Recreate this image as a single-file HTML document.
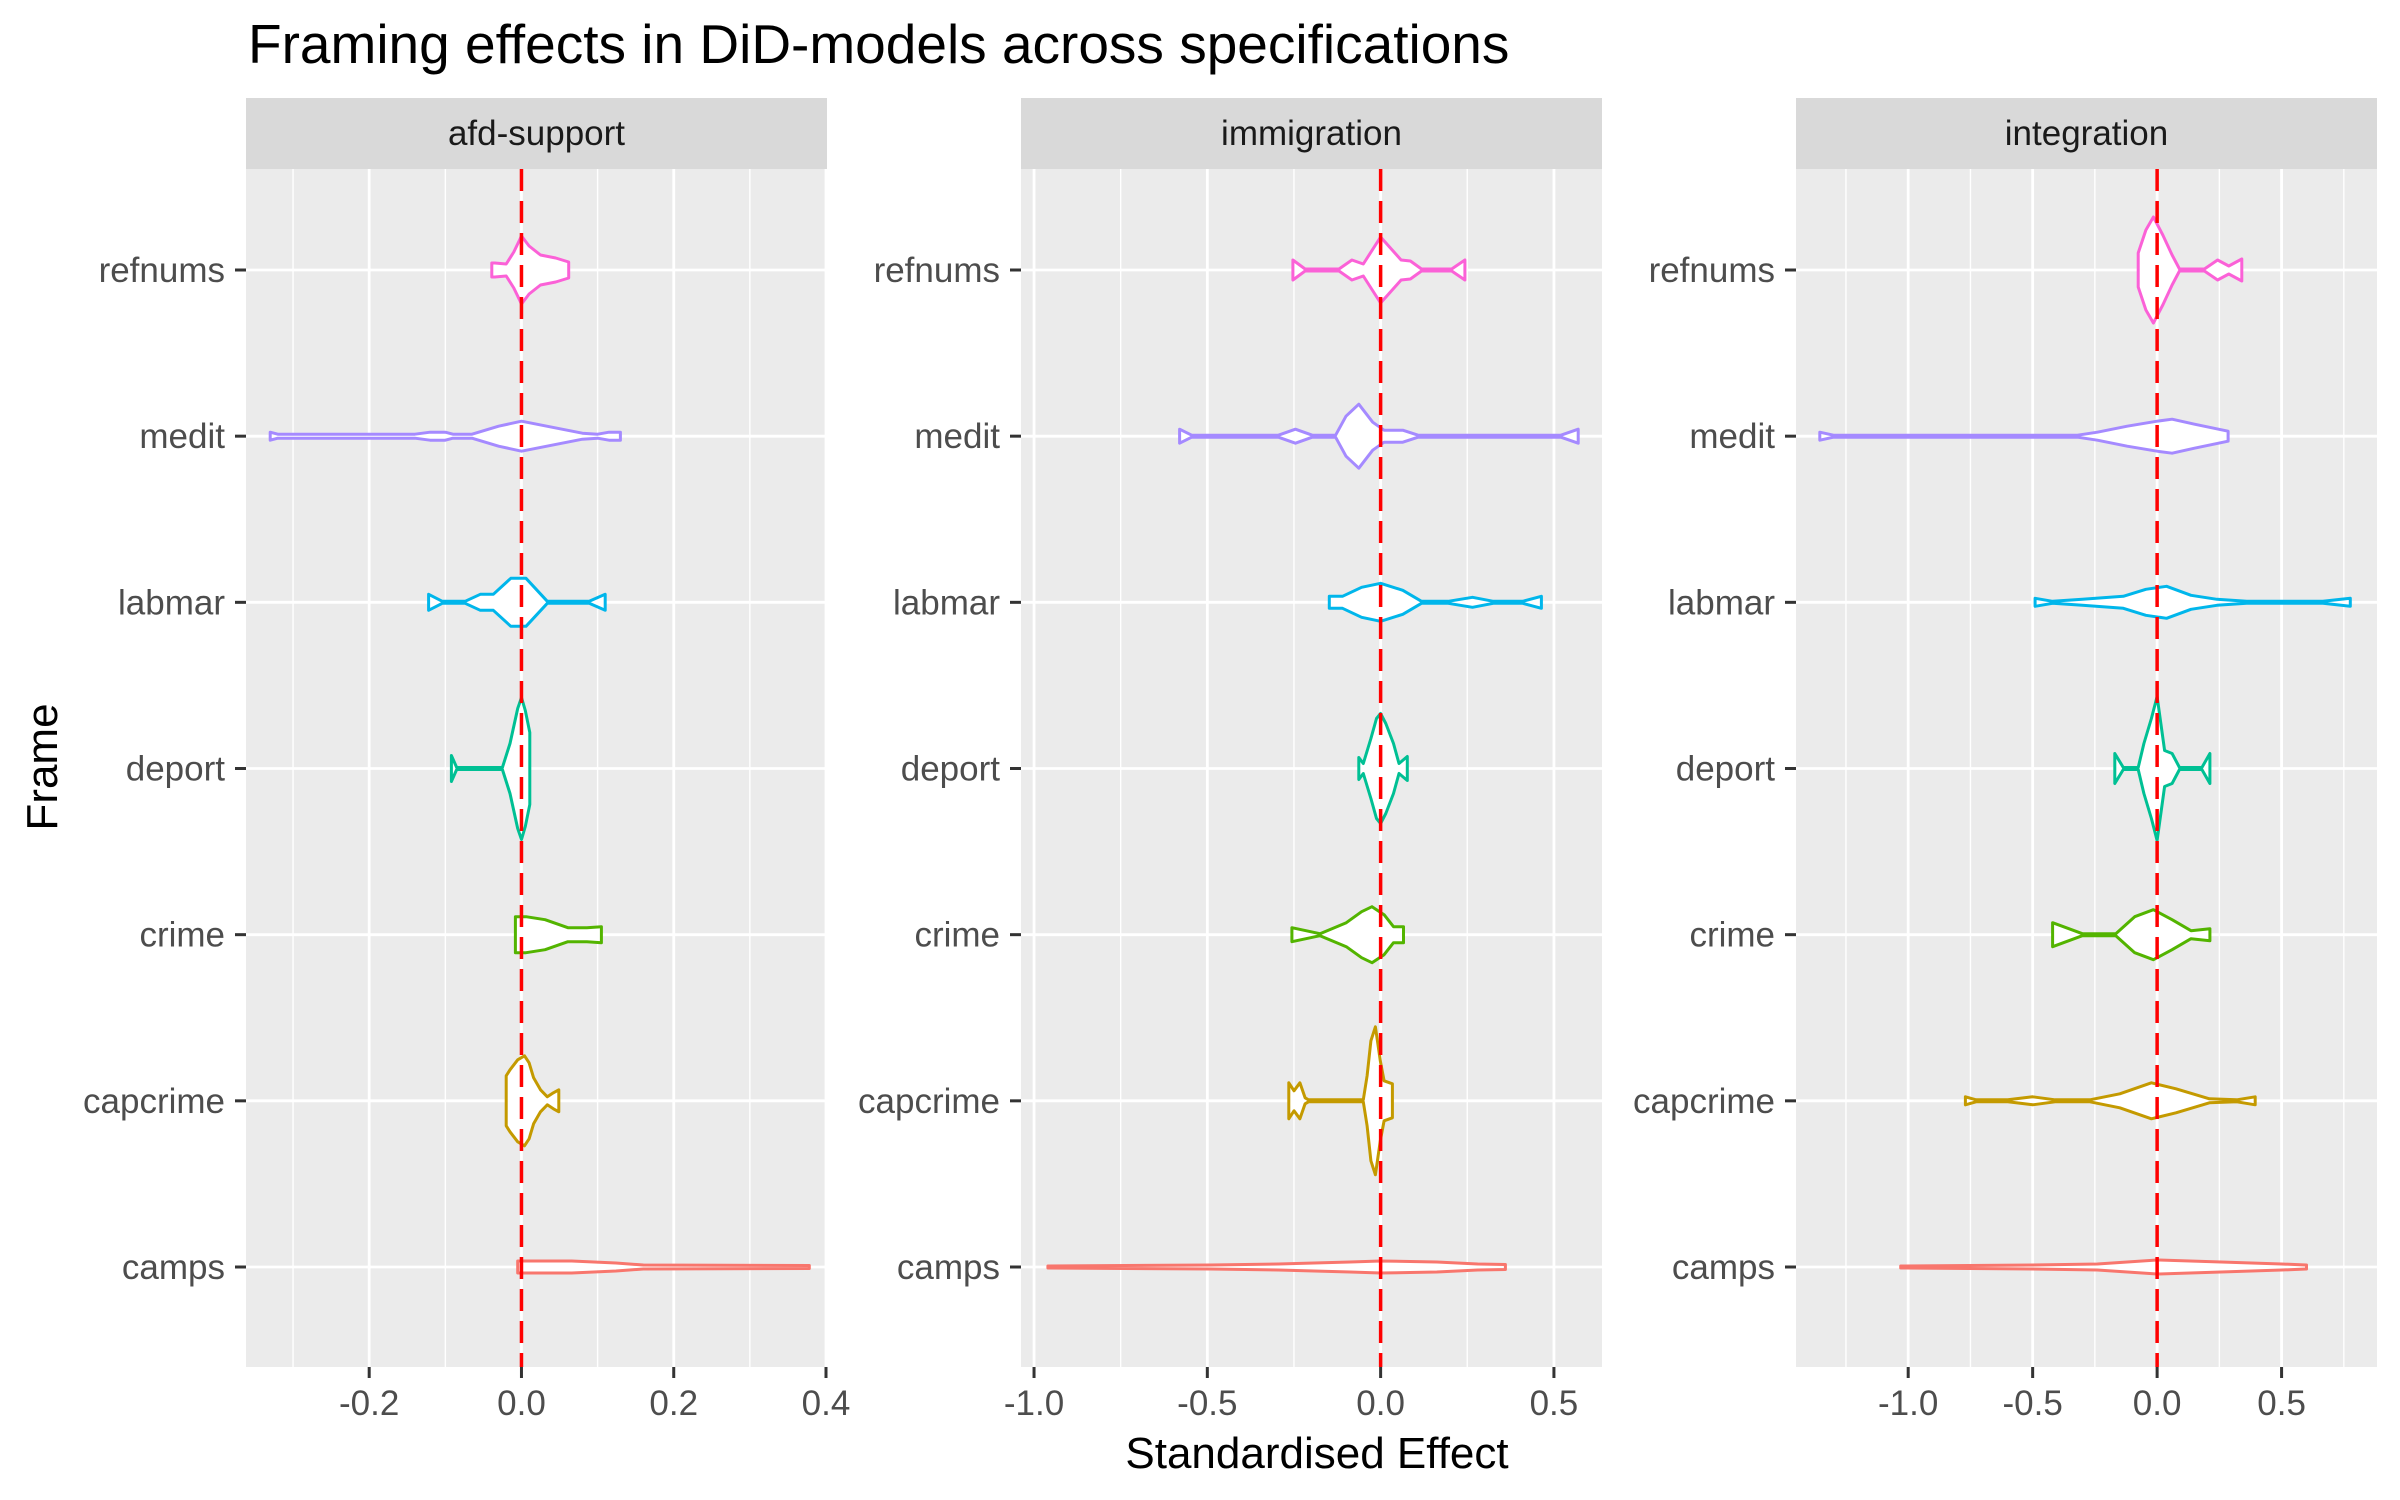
<!DOCTYPE html>
<html><head><meta charset="utf-8"><style>
html,body{margin:0;padding:0;background:#fff;}
svg{display:block;font-family:"Liberation Sans",Arial,sans-serif;}
</style></head><body>
<svg id="chart" width="2400" height="1500" viewBox="0 0 2400 1500" xmlns="http://www.w3.org/2000/svg">
<text x="248" y="63" font-size="55" fill="#000">Framing effects in DiD-models across specifications</text>
<text x="1317" y="1468" font-size="44" text-anchor="middle" fill="#000">Standardised Effect</text>
<text transform="translate(57,767) rotate(-90)" font-size="44" text-anchor="middle" fill="#000">Frame</text>
<g id="panels"></g>
</svg>
<script>
const frames = ["camps","capcrime","crime","deport","labmar","medit","refnums"];
const colors = ["#F8766D","#C49A00","#53B400","#00C094","#00B6EB","#A58AFF","#FB61D7"];
const panelNames = ["afd-support","immigration","integration"];
const xTicks1 = [-0.2,0,0.2,0.4];
const xTickLabels1 = ["-0.2","0.0","0.2","0.4"];
const xMinor1 = [-0.3,-0.1,0.1,0.3];
const xTicks2 = [-1,-0.5,0,0.5];
const xTickLabels2 = ["-1.0","-0.5","0.0","0.5"];
const xMinor2 = [-0.75,-0.25,0.25];
const xTicks3 = [-1,-0.5,0,0.5];
const xTickLabels3 = ["-1.0","-0.5","0.0","0.5"];
const xMinor3 = [-1.25,-0.75,-0.25,0.25,0.75];
const xDomain1 = [-0.3618,0.4013];
const xDomain2 = [-1.0376,0.6387];
const xDomain3 = [-1.4507,0.8833];
const refLine = 0;

// afd-support
const p1_camps_x = [-0.005,0.066,0.124,0.16,0.378];
const p1_camps_d = [6,6,4,2,1.5];
const p1_capcrime_x = [-0.02,-0.015,-0.005,0.004,0.01,0.016,0.025,0.034,0.042,0.049];
const p1_capcrime_d = [25,31,41,45,38,23,11,4,8,11];
const p1_crime_x = [-0.008,0.006,0.031,0.061,0.086,0.105];
const p1_crime_d = [18,18,15,7,7,8];
const p1_deport_x = [-0.092,-0.085,-0.025,-0.015,-0.005,0,0.005,0.011];
const p1_deport_d = [13,1,1,25,60,71,58,36];
const p1_labmar_x = [-0.122,-0.104,-0.074,-0.054,-0.037,-0.014,0.006,0.034,0.089,0.11];
const p1_labmar_d = [8,1,1,8,8,24,24,1,1,8];
const p1_medit_x = [-0.33,-0.32,-0.14,-0.12,-0.1,-0.09,-0.065,-0.03,0,0.04,0.08,0.1,0.115,0.13];
const p1_medit_d = [4,2,2,4,4,2,2,10,15,9,3,2,4,4];
const p1_refnums_x = [-0.039,-0.035,-0.02,-0.01,0,0.01,0.025,0.045,0.062];
const p1_refnums_d = [7,7,6,18,34,24,15,12,8];
// immigration
const p2_camps_x = [-0.96,-0.49,-0.295,-0.088,0,0.162,0.28,0.36];
const p2_camps_d = [1,2,3,5,6,5,3,2.5];
const p2_capcrime_x = [-0.265,-0.25,-0.233,-0.218,-0.208,-0.05,-0.039,-0.028,-0.015,-0.001,0.01,0.034];
const p2_capcrime_d = [18,10,18,3,1,1,25,60,74,40,20,17];
const p2_crime_x = [-0.256,-0.175,-0.099,-0.055,-0.025,0.01,0.037,0.066];
const p2_crime_d = [7,1,12,23,28,20,8,8];
const p2_deport_x = [-0.063,-0.05,-0.028,-0.012,0,0.015,0.037,0.053,0.077];
const p2_deport_d = [11,5,30,50,55,45,25,5,12];
const p2_labmar_x = [-0.148,-0.11,-0.055,0,0.064,0.118,0.195,0.265,0.325,0.41,0.464];
const p2_labmar_d = [6,6,15,19,12,1,1,5,1,1,6];
const p2_medit_x = [-0.58,-0.545,-0.295,-0.246,-0.197,-0.13,-0.1,-0.063,-0.023,0.01,0.064,0.108,0.52,0.57];
const p2_medit_d = [7,1,1,7,1,1,20,32,14,6,6,1,1,7];
const p2_refnums_x = [-0.253,-0.218,-0.12,-0.083,-0.05,0,0.059,0.086,0.118,0.205,0.243];
const p2_refnums_d = [10,1,1,10,6,33,10,9,1,1,10];
// integration
const p3_camps_x = [-1.03,-0.5,-0.24,0,0.257,0.5,0.6];
const p3_camps_d = [1,2,3,7,5,3,2];
const p3_capcrime_x = [-0.77,-0.727,-0.6,-0.5,-0.41,-0.27,-0.15,-0.023,0.076,0.21,0.32,0.394];
const p3_capcrime_d = [4,1,1,4,1,1,7,18,12,2,1,4];
const p3_crime_x = [-0.42,-0.3,-0.166,-0.09,-0.015,0.06,0.136,0.212];
const p3_crime_d = [12,1,1,18,25,15,4,6];
const p3_deport_x = [-0.17,-0.136,-0.076,-0.053,-0.023,0,0.03,0.06,0.09,0.18,0.212];
const p3_deport_d = [15,1,1,25,50,72,18,15,1,1,15];
const p3_labmar_x = [-0.49,-0.42,-0.3,-0.136,-0.045,0.038,0.136,0.24,0.36,0.666,0.776];
const p3_labmar_d = [4,1,3,6,13,16,7,3,1,1,4];
const p3_medit_x = [-1.355,-1.3,-0.32,-0.24,-0.12,0,0.06,0.15,0.285];
const p3_medit_d = [4,1,1,4,10,15,17,12,5];
const p3_refnums_x = [-0.076,-0.045,-0.015,0.023,0.06,0.09,0.19,0.243,0.288,0.34];
const p3_refnums_d = [17,40,53,35,15,1,1,10,4,11];

const profiles = [
  [[p1_camps_x,p1_camps_d],[p1_capcrime_x,p1_capcrime_d],[p1_crime_x,p1_crime_d],[p1_deport_x,p1_deport_d],[p1_labmar_x,p1_labmar_d],[p1_medit_x,p1_medit_d],[p1_refnums_x,p1_refnums_d]],
  [[p2_camps_x,p2_camps_d],[p2_capcrime_x,p2_capcrime_d],[p2_crime_x,p2_crime_d],[p2_deport_x,p2_deport_d],[p2_labmar_x,p2_labmar_d],[p2_medit_x,p2_medit_d],[p2_refnums_x,p2_refnums_d]],
  [[p3_camps_x,p3_camps_d],[p3_capcrime_x,p3_capcrime_d],[p3_crime_x,p3_crime_d],[p3_deport_x,p3_deport_d],[p3_labmar_x,p3_labmar_d],[p3_medit_x,p3_medit_d],[p3_refnums_x,p3_refnums_d]]
];
const ticksAll = [xTicks1,xTicks2,xTicks3];
const tickLabelsAll = [xTickLabels1,xTickLabels2,xTickLabels3];
const minorAll = [xMinor1,xMinor2,xMinor3];
const domains = [xDomain1,xDomain2,xDomain3];

const NS = "http://www.w3.org/2000/svg";
const root = document.getElementById("panels");
const panelLeft = [246,1021,1796];
const panelW = 581;
const pTop = 169, pBottom = 1367, stripTop = 98;
const rowTop = 270, rowBottom = 1267;
function yScale(i){ return rowBottom - i*(rowBottom-rowTop)/(frames.length-1); }
function xScaleFor(p){ const d=domains[p]; return v => panelLeft[p] + (v-d[0])/(d[1]-d[0])*panelW; }
const densScale = 1;
function mk(tag, attrs, parent){ const e=document.createElementNS(NS,tag); for(const k in attrs) e.setAttribute(k,attrs[k]); (parent||root).appendChild(e); return e; }

for(let p=0;p<3;p++){
  const xs = xScaleFor(p);
  const g = mk("g",{});
  
  
  const L = panelLeft[p];
  const bg = mk("rect",{x:L,y:pTop,width:panelW,height:pBottom-pTop,fill:"#EBEBEB"},g);
  
  
  const strip = mk("rect",{x:L,y:stripTop,width:panelW,height:pTop-stripTop,fill:"#D9D9D9"},g);
  
  
  const st = mk("text",{x:L+panelW/2,y:145,"font-size":35,"text-anchor":"middle",fill:"#1A1A1A"},g);
  st.textContent = panelNames[p];
  
  
  minorAll[p].forEach(v=>{
    const l = mk("line",{x1:xs(v),x2:xs(v),y1:pTop,y2:pBottom,stroke:"#fff","stroke-width":1.4},g);
    
    
  });
  ticksAll[p].forEach((v,i)=>{
    const l = mk("line",{x1:xs(v),x2:xs(v),y1:pTop,y2:pBottom,stroke:"#fff","stroke-width":2.8},g);
    
    
    const t = mk("line",{x1:xs(v),x2:xs(v),y1:pBottom,y2:pBottom+11,stroke:"#333","stroke-width":3},g);
    
    
    const tl = mk("text",{x:xs(v),y:1415,"font-size":35,"text-anchor":"middle",fill:"#4D4D4D"},g);
    tl.textContent = tickLabelsAll[p][i];
    
    
  });
  frames.forEach((f,i)=>{
    const y = yScale(i);
    const l = mk("line",{x1:L,x2:L+panelW,y1:y,y2:y,stroke:"#fff","stroke-width":2.8},g);
    
    
    const t = mk("line",{x1:L-11,x2:L,y1:y,y2:y,stroke:"#333","stroke-width":3},g);
    
    
    const tl = mk("text",{x:L-21,y:y+12,"font-size":35,"text-anchor":"end",fill:"#4D4D4D"},g);
    tl.textContent = f;
    
    
  });
  frames.forEach((f,i)=>{
    const y = yScale(i);
    const vx = profiles[p][i][0], vd = profiles[p][i][1];
    let pts = [];
    for(let k=0;k<vx.length;k++) pts.push(xs(vx[k]).toFixed(1)+","+(y - vd[k]*densScale).toFixed(1));
    for(let k=vx.length-1;k>=0;k--) pts.push(xs(vx[k]).toFixed(1)+","+(y + vd[k]*densScale).toFixed(1));
    const poly = mk("polygon",{points:pts.join(" "),fill:"#fff",stroke:colors[i],"stroke-width":3,"stroke-linejoin":"round"},g);
    
    
  });
  const rl = mk("line",{x1:xs(refLine),x2:xs(refLine),y1:pTop,y2:pBottom,stroke:"#FF0000","stroke-width":3.5,"stroke-dasharray":"22 10"},g);
  
  
}
</script>
</body></html>
